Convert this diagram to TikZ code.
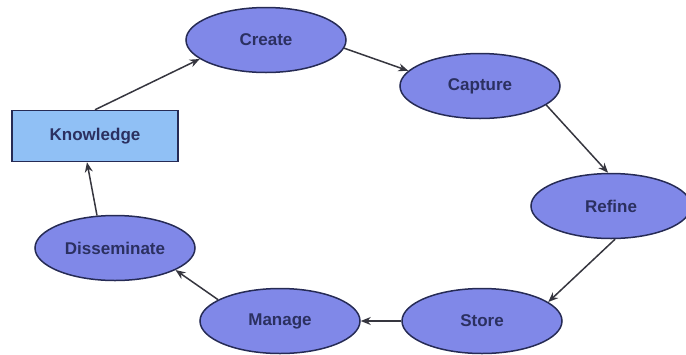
\documentclass[tikz,border=0pt]{standalone}
\usepackage{fontspec}
\setmainfont{Liberation Sans}
\usetikzlibrary{shapes.geometric,arrows.meta}
\definecolor{stepfill}{HTML}{8088E8}
\definecolor{knowfill}{HTML}{90C0F5}
\definecolor{rimcol}{HTML}{262B55}
\definecolor{textcol}{HTML}{2B3060}
\definecolor{arrowcol}{HTML}{36363F}
\begin{document}
\begin{tikzpicture}[x=1pt,y=-1pt,
    stage/.style={ellipse,draw=rimcol,fill=stepfill,line width=1.5pt,
      minimum width=160pt,minimum height=65pt,inner sep=0pt,
      text=textcol,font=\fontsize{17}{20}\selectfont\bfseries},
    knowbox/.style={rectangle,draw=rimcol,fill=knowfill,line width=1.5pt,
      minimum width=166pt,minimum height=51pt,inner sep=0pt,
      text=textcol,font=\fontsize{17}{20}\selectfont\bfseries},
    flow/.style={draw=arrowcol,line width=1.5pt,-{Stealth[length=10pt,width=8pt]}}]
    \useasboundingbox (0,0) rectangle (686,354);
    % the cycle
    \node[knowbox] (Knowledge) at (95,136) {Knowledge};
    \node[stage] (Create) at (266,40) {Create};
    \node[stage] (Capture) at (480,86) {Capture};
    \node[stage] (Refine) at (611,206) {Refine};
    \node[stage] (Store) at (482,321) {Store};
    \node[stage] (Manage) at (280,321) {Manage};
    \node[stage] (Disseminate) at (115,248) {Disseminate};
    \draw[flow] (Knowledge.north) -- (Create.196);
    \draw[flow] (Create.-6) -- (Capture.168);
    \draw[flow] (Capture.-16) -- (Refine.95);
    \draw[flow] (Refine.-83) -- (Store.16);
    \draw[flow] (Store.west) -- (Manage.east);
    \draw[flow] (Manage.161) -- (Disseminate.-20);
    \draw[flow] (Disseminate.119) -- (Knowledge.253);
  \end{tikzpicture}
\end{document}
